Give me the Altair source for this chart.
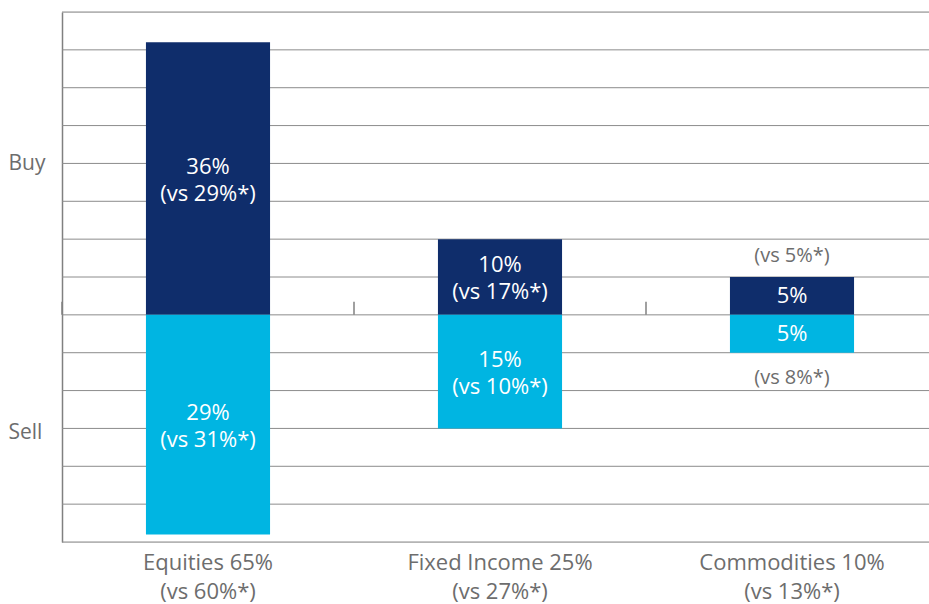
import altair as alt
import pandas as pd

# ---- data ----
categories = ["Equities 65%\n(vs 60%*)", "Fixed Income 25%\n(vs 27%*)", "Commodities 10%\n(vs 13%*)"]
buy_values = [36, 10, 5]
sell_values = [29, 15, 5]
buy_vs = ["(vs 29%*)", "(vs 17%*)", "(vs 5%*)"]
sell_vs = ["(vs 31%*)", "(vs 10%*)", "(vs 8%*)"]
vs_inside = [True, True, False]
grid_values = list(range(-30, 45, 5))
side_tick_values = [20, -15.5]

rows = []
for i, c in enumerate(categories):
    for side, v, vs in (("Buy", buy_values[i], buy_vs[i]), ("Sell", -sell_values[i], sell_vs[i])):
        rows.append({
            "category": c,
            "side": side,
            "value": v,
            "multi": vs_inside[i],
            "pct": f"{abs(v)}%",
            "vs": vs,
        })
df = pd.DataFrame(rows)
grid_df = pd.DataFrame({"g": grid_values})
cat_df = pd.DataFrame({"category": categories})

FONT = "Open Sans"
GRAY = "#6d6d6d"
LINE = "#8c8c8c"

x_enc = alt.X(
    "category:N",
    sort=categories,
    scale=alt.Scale(range=[0, 876], paddingInner=0.575, paddingOuter=0.2875),
    axis=alt.Axis(
        title=None, domain=False, ticks=False, labelAngle=0,
        labelExpr="split(datum.label, '\\n')",
        labelFontSize=22, labelColor=GRAY, labelFont=FONT,
        labelLineHeight=29, labelPadding=10, labelLimit=400,
    ),
)
x_plain = alt.X("category:N", sort=categories)
y_scale = alt.Scale(domain=[-30, 40], nice=False, zero=False)

grid = alt.Chart(grid_df).mark_rule(color=LINE, strokeWidth=1).encode(
    y=alt.Y(
        "g:Q", scale=y_scale,
        axis=alt.Axis(
            title=None, values=side_tick_values,
            labelExpr="datum.value > 0 ? 'Buy' : 'Sell'",
            grid=False, ticks=False, domain=True, domainColor="#808080", domainWidth=1.5,
            labelAlign="left", labelPadding=54, labelFontSize=21,
            labelColor=GRAY, labelFont=FONT,
        ),
    )
)

bars = alt.Chart(df).mark_bar().encode(
    x=x_enc,
    y=alt.Y("value:Q", scale=y_scale),
    y2=alt.datum(0),
    color=alt.Color("side:N", scale=alt.Scale(domain=["Buy", "Sell"], range=["#0f2d6b", "#00b5e2"]), legend=None),
)

ticks = alt.Chart(cat_df).mark_rule(color="#808080", strokeWidth=1.5, xOffset=-146, y2Offset=-13).encode(
    x=x_plain,
    y=alt.datum(0),
    y2=alt.datum(0),
)

def text_layer(filter_expr, field, color, size, dy, ypos):
    return alt.Chart(df).transform_filter(filter_expr).transform_calculate(
        mid="datum.value / 2"
    ).mark_text(color=color, fontSize=size, font=FONT, baseline="middle", dy=dy).encode(
        x=x_plain,
        y=alt.Y(f"{ypos}:Q", scale=y_scale),
        text=f"{field}:N",
    )

pct_multi = text_layer("datum.multi", "pct", "white", 22, -12, "mid")
vs_multi = text_layer("datum.multi", "vs", "white", 22, 15, "mid")
pct_single = text_layer("!datum.multi", "pct", "white", 22, 0, "mid")
vs_out_buy = text_layer("!datum.multi && datum.side == 'Buy'", "vs", GRAY, 20, -21, "value")
vs_out_sell = text_layer("!datum.multi && datum.side == 'Sell'", "vs", GRAY, 20, 25, "value")

chart = alt.layer(grid, bars, ticks, pct_multi, vs_multi, pct_single, vs_out_buy, vs_out_sell).properties(
    width=867, height=530,
    autosize=alt.AutoSizeParams(type="none"),
    padding={"left": 62, "top": 12, "right": 0, "bottom": 62},
).configure_view(stroke=None).configure(background="white")

chart.save("out.html", embed_options={"renderer": "svg", "actions": False})
